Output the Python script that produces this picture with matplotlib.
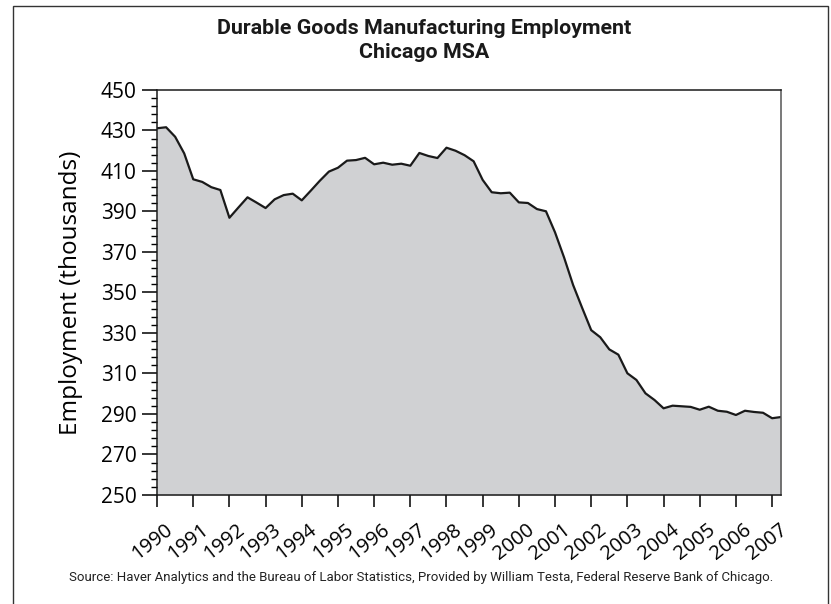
import matplotlib
matplotlib.use("Agg")
import matplotlib.pyplot as plt
import matplotlib.patches as patches
import matplotlib.transforms as mtransforms
import numpy as np

# quarterly data, 1990Q1 .. 2007Q2 (thousands)
start_year = 1990
employment = [
    431.1, 431.6, 426.9, 418.7, 405.9, 404.6, 402.0, 400.6,   # 1990-1991
    386.9, 392.0, 397.0, 394.4, 391.7, 396.0, 398.1, 398.8,   # 1992-1993
    395.5, 400.3, 405.2, 409.7, 411.6, 415.1, 415.4, 416.5,   # 1994-1995
    413.3, 414.1, 413.1, 413.6, 412.6, 418.9, 417.4, 416.4,   # 1996-1997
    421.5, 420.0, 417.8, 414.8, 405.6, 399.5, 399.0, 399.3,   # 1998-1999
    394.5, 394.2, 391.2, 390.1, 379.7, 367.3, 353.7, 342.4,   # 2000-2001
    331.4, 327.9, 321.9, 319.3, 310.1, 306.8, 300.2, 296.9,   # 2002-2003
    292.8, 294.1, 293.8, 293.5, 292.1, 293.6, 291.6, 291.1,   # 2004-2005
    289.5, 291.6, 291.0, 290.6, 287.9, 288.5,                 # 2006-2007
]
years = list(range(1990, 2008))
y_ticks = list(range(250, 451, 20))

title_font = ["Roboto", "DejaVu Sans"]
label_font = ["Open Sans", "DejaVu Sans"]

x = start_year + np.arange(len(employment)) / 4.0

fig = plt.figure(figsize=(8.31, 6.04), dpi=100)
ax = fig.add_axes([0.189, 0.1805, 0.751, 0.6705])

# shaded area with dark outline
ax.fill_between(x, 250, employment, color="#d0d1d3", linewidth=0)
ax.plot(x, employment, color="#1a1a1a", linewidth=1.6)

ax.set_xlim(1990, x[-1])
ax.set_ylim(250, 450)

ax.set_yticks(y_ticks)
ax.set_yticks(np.arange(250, 451, 4), minor=True)
ax.set_xticks(years)
ax.tick_params(axis="y", which="major", direction="out", length=10.8, width=1.1, pad=4)
ax.tick_params(axis="y", which="minor", direction="out", length=4.3, width=1.0)
ax.tick_params(axis="x", which="major", direction="out", length=8.6, width=1.1, pad=9)

for lab in ax.get_yticklabels():
    lab.set_fontfamily(label_font)
    lab.set_fontsize(15)

ax.set_xticklabels([str(yr) for yr in years], rotation=38, ha="right",
                   rotation_mode="anchor", fontsize=14.5, family=label_font)
# shift year labels a little to the right of their ticks
offset = mtransforms.ScaledTranslation(7 / 100, 0, fig.dpi_scale_trans)
for lab in ax.get_xticklabels():
    lab.set_transform(lab.get_transform() + offset)

for side in ["left", "bottom", "top"]:
    ax.spines[side].set_color("#1a1a1a")
    ax.spines[side].set_linewidth(1.1)
ax.spines["right"].set_color("#555555")
ax.spines["right"].set_linewidth(1.1)

ax.set_ylabel("Employment (thousands)", fontsize=17.5, family=label_font)
ax.yaxis.set_label_coords(-0.118, 0.5)

# titles
fig.text(0.51, 1 - 29 / 604, "Durable Goods Manufacturing Employment", ha="center",
         va="center", fontsize=15.4, fontweight="bold", family=title_font, color="#1a1a1a")
fig.text(0.51, 1 - 52 / 604, "Chicago MSA", ha="center", va="center",
         fontsize=15.4, fontweight="bold", family=title_font, color="#1a1a1a")

fig.text(0.507, 1 - 577 / 604,
         "Source: Haver Analytics and the Bureau of Labor Statistics, Provided by William Testa, Federal Reserve Bank of Chicago.",
         ha="center", va="center", fontsize=9.5, family=title_font, color="#222222")

# outer frame, runs off the bottom of the image
frame = patches.Rectangle((13 / 831, -0.05), (828 - 13) / 831, 1.05 - 6 / 604,
                          transform=fig.transFigure, fill=False, edgecolor="#333333",
                          linewidth=1.0)
fig.patches.append(frame)

fig.savefig("out.png", dpi=100)
